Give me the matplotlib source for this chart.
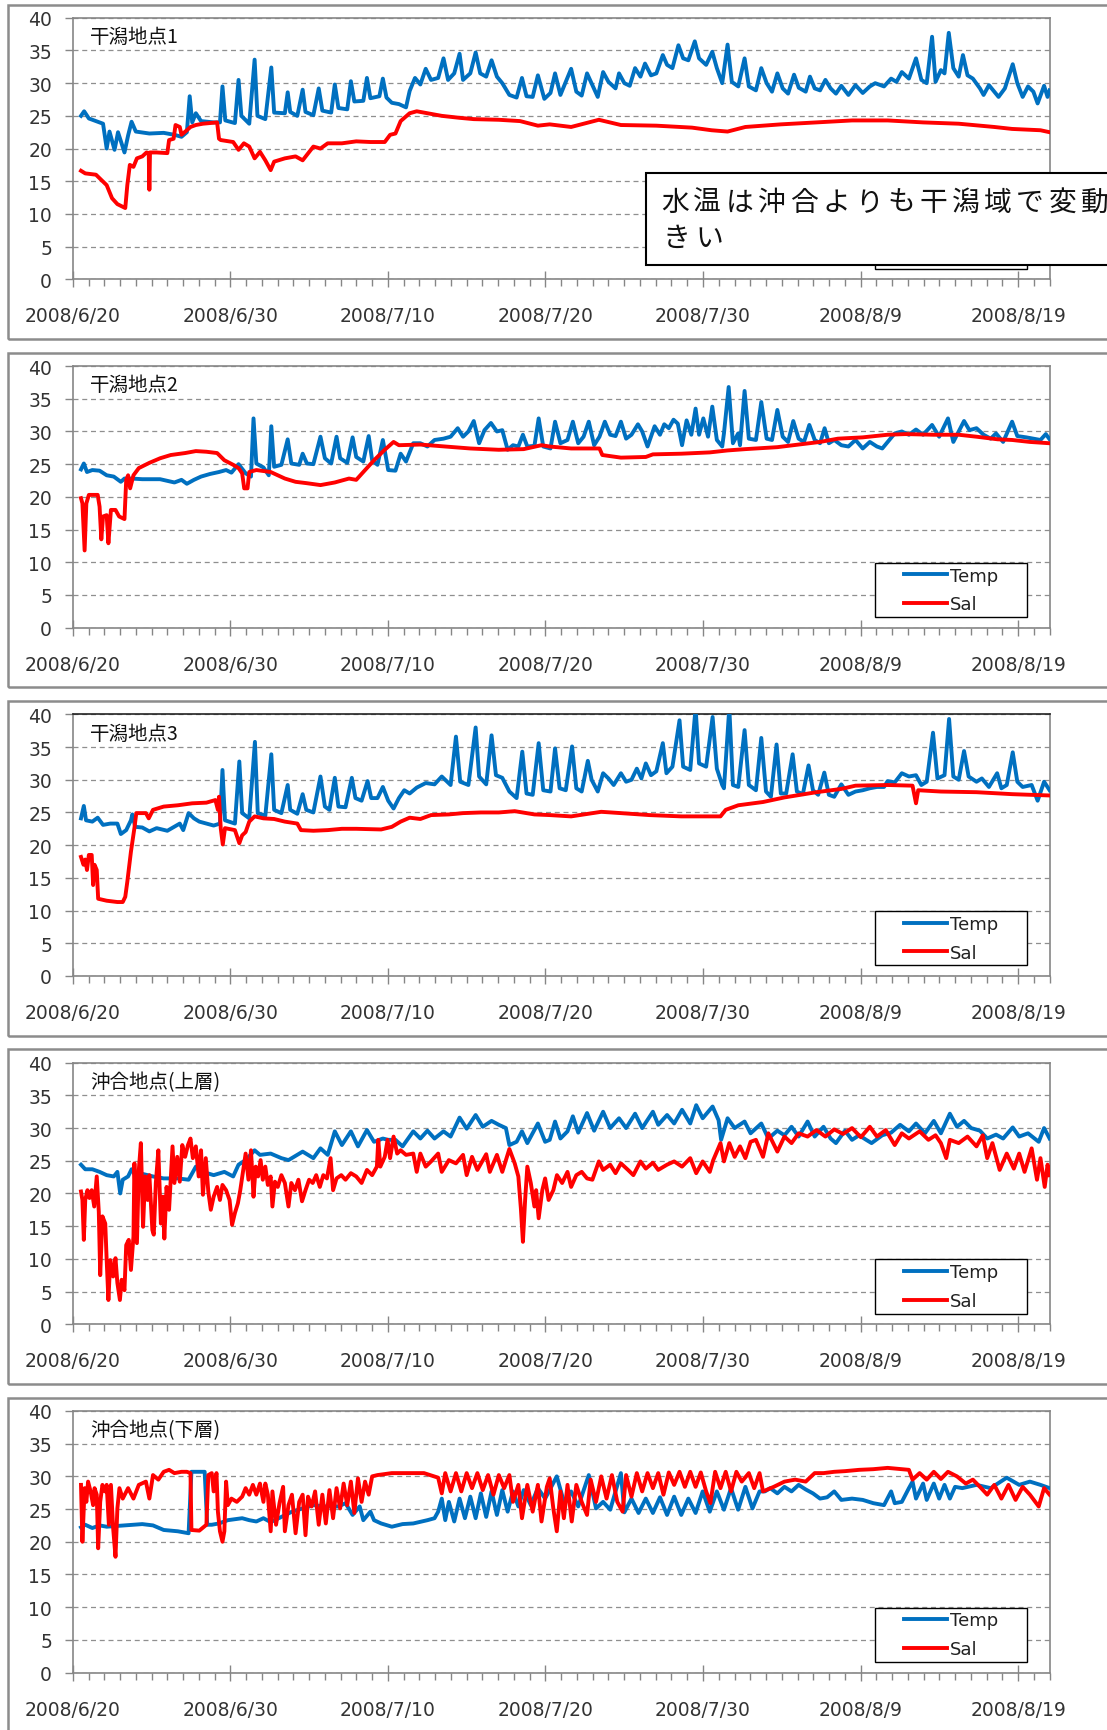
import numpy as np
import matplotlib
matplotlib.use("Agg")
import matplotlib.pyplot as plt
import matplotlib.dates as mdates
from matplotlib.patches import Rectangle
from matplotlib.ticker import FixedLocator, FuncFormatter
from datetime import datetime

plt.rcParams['font.family'] = ['DejaVu Sans', 'Noto Sans CJK JP']

# time axis: days since 2008/6/20 00:00
X_START = "2008-06-20"
X_DAYS = 62
TICK_DATES = ["2008-06-20", "2008-06-30", "2008-07-10", "2008-07-20",
              "2008-07-30", "2008-08-09", "2008-08-19"]
Y_TICKS = [0, 5, 10, 15, 20, 25, 30, 35, 40]

TITLES = ["干潟地点1", "干潟地点2", "干潟地点3", "沖合地点(上層)", "沖合地点(下層)"]
LABELS = ["Temp", "Sal"]
NOTE_LINES = ["水温は沖合よりも干潟域で変動", "きい"]

# (day, value)
T1 = [(0.52,25.0),(0.72,25.7),(1.02,24.6),(1.47,24.2),(1.92,23.8),(2.15,20.0),(2.33,22.6),(2.65,19.8),
      (2.87,22.5),(3.28,19.4),(3.51,22.0),(3.73,24.1),(4.00,22.6),(4.86,22.3),(5.77,22.4),(6.45,22.1),
      (6.90,21.8),(7.24,22.5),(7.42,28.0),(7.58,24.0),(7.81,25.4),(8.14,24.2),(8.94,24.0),(9.34,24.0),
      (9.50,29.5),(9.68,24.3),(10.29,23.9),(10.52,30.5),(10.70,25.0),(11.20,23.8),(11.54,33.6),(11.72,25.0),
      (12.22,24.5),(12.60,32.4),(12.78,25.5),(13.46,25.4),(13.64,28.6),(13.80,25.6),(14.25,25.0),(14.59,29.0),
      (14.77,25.6),(15.27,25.1),(15.61,29.2),(15.84,25.8),(16.40,25.5),(16.63,29.8),(16.86,26.2),(17.42,26.0),
      (17.65,30.3),(17.87,27.2),(18.44,27.3),(18.67,30.8),(18.89,27.7),(19.46,28.0),(19.68,30.7),(19.91,27.8),
      (20.25,27.0),(20.70,26.8),(21.15,26.3),(21.38,28.8),(21.72,30.8),(22.06,29.8),(22.40,32.2),(22.74,30.5),
      (23.19,30.8),(23.53,33.8),(23.82,30.5),(24.21,31.5),(24.55,34.5),(24.77,30.5),(25.23,31.5),(25.57,34.7),
      (25.86,31.5),(26.24,31.0),(26.58,33.5),(26.92,31.0),(27.26,30.0),(27.71,28.2),(28.17,27.8),(28.51,30.8),
      (28.80,28.0),(29.19,27.9),(29.52,31.2),(29.93,27.6),(30.32,28.5),(30.61,31.5),(30.95,28.2),(31.29,30.2),
      (31.63,32.2),(31.96,28.7),(32.30,28.1),(32.64,31.5),(32.98,29.7),(33.32,27.9),(33.66,31.7),(34.00,30.2),
      (34.45,29.2),(34.67,31.5),(35.01,30.0),(35.35,29.6),(35.69,32.3),(36.03,31.0),(36.32,33.0),(36.70,31.2),
      (37.04,31.5),(37.45,34.3),(37.72,32.8),(38.06,32.3),(38.44,35.8),(38.74,33.8),(39.07,33.5),(39.48,36.4),
      (39.75,33.8),(40.20,32.8),(40.59,34.8),(40.88,32.3),(41.22,30.0),(41.56,35.9),(41.83,30.2),(42.24,29.5),
      (42.64,33.8),(42.91,29.5),(43.36,28.9),(43.70,32.3),(44.04,30.0),(44.38,28.7),(44.72,31.5),(45.06,29.2),
      (45.40,28.4),(45.78,31.3),(46.08,29.3),(46.52,28.7),(46.79,31.0),(47.09,29.2),(47.43,28.9),(47.77,30.5),
      (48.10,29.2),(48.44,28.4),(48.78,29.6),(49.23,28.2),(49.68,29.7),(50.14,28.5),(50.59,29.5),(50.93,30.0),
      (51.49,29.5),(51.94,30.7),(52.28,30.2),(52.62,31.7),(53.07,30.7),(53.52,33.8),(53.86,30.5),(54.20,30.0),
      (54.54,37.1),(54.76,30.2),(55.10,32.0),(55.33,31.5),(55.60,37.7),(55.89,32.3),(56.23,31.0),(56.50,34.3),
      (56.79,31.2),(57.13,30.7),(57.58,29.2),(57.81,28.2),(58.15,29.7),(58.49,28.7),(58.76,27.9),(59.16,29.2),
      (59.66,32.9),(59.95,30.0),(60.29,27.9),(60.63,29.5),(60.97,28.7),(61.24,26.9),(61.65,29.6),(61.87,27.9),
      (62.0,28.9)]
S1 = [(0.52,16.6),(0.79,16.2),(1.47,16.0),(1.81,15.2),(2.15,14.4),(2.49,12.4),(2.83,11.5),(3.33,10.9),
      (3.46,14.4),(3.62,17.5),(3.85,17.2),(4.07,18.5),(4.41,18.8),(4.68,19.4),(4.82,19.3),(4.86,13.7),
      (4.90,19.4),(5.32,19.4),(6.00,19.3),(6.11,21.3),(6.40,21.5),(6.52,23.6),(6.79,23.3),(6.90,22.1),
      (7.24,22.8),(7.47,23.3),(7.81,23.6),(8.26,23.8),(9.16,24.0),(9.28,21.5),(9.39,21.3),(10.18,21.0),
      (10.52,19.8),(10.86,20.8),(11.20,20.3),(11.54,18.5),(11.88,19.5),(12.22,18.2),(12.56,16.7),(12.78,18.0),
      (13.46,18.5),(14.14,18.8),(14.59,18.2),(15.27,20.3),(15.72,20.0),(16.18,20.8),(17.08,20.8),(17.99,21.1),
      (18.89,21.0),(19.80,21.0),(20.14,22.1),(20.48,22.3),(20.81,24.2),(21.38,25.4),(21.83,25.7),(22.51,25.4),
      (23.42,25.0),(24.55,24.7),(25.45,24.5),(27.04,24.4),(28.39,24.2),(29.52,23.5),(30.27,23.7),(31.63,23.3),
      (33.39,24.4),(34.79,23.6),(37.04,23.5),(39.30,23.2),(40.54,22.8),(41.56,22.6),(42.69,23.3),(44.94,23.7),
      (47.20,24.0),(49.46,24.3),(51.72,24.3),(53.97,24.0),(56.23,23.8),(58.49,23.3),(59.62,23.0),(61.42,22.8),
      (62.0,22.5)]
T2 = [(0.52,24.2),(0.70,25.1),(0.90,23.8),(1.24,24.1),(1.70,24.0),(2.15,23.3),(2.60,23.1),(3.05,22.3),
      (3.28,22.8),(3.73,22.8),(4.41,22.7),(5.54,22.7),(6.45,22.2),(6.90,22.6),(7.24,22.0),(7.69,22.6),
      (8.14,23.1),(8.71,23.5),(9.28,23.8),(9.73,24.1),(10.07,23.7),(10.52,25.0),(10.97,23.6),(11.31,23.1),
      (11.47,32.0),(11.65,25.1),(12.10,24.5),(12.44,23.3),(12.60,30.8),(12.78,24.6),(13.24,24.9),(13.64,28.8),
      (13.87,25.1),(14.37,24.9),(14.59,26.6),(14.86,25.1),(15.27,25.0),(15.72,29.2),(16.00,25.9),(16.40,25.1),
      (16.74,29.2),(16.97,25.9),(17.42,25.2),(17.76,29.1),(17.99,26.1),(18.44,25.4),(18.78,29.3),(19.00,25.6),
      (19.34,24.9),(19.68,28.7),(20.02,24.1),(20.48,24.0),(20.81,26.6),(21.15,25.4),(21.61,28.2),(22.06,28.2),
      (22.51,27.7),(22.96,28.7),(23.53,28.9),(23.98,29.2),(24.43,30.5),(24.77,29.2),(25.11,30.0),(25.45,31.6),
      (25.79,28.2),(26.13,30.2),(26.54,31.3),(26.92,30.0),(27.26,30.2),(27.60,27.2),(27.94,27.9),(28.28,27.7),
      (28.57,29.5),(28.85,27.7),(29.30,27.8),(29.57,32.0),(29.86,27.7),(30.32,27.4),(30.61,31.5),(30.95,28.2),
      (31.40,28.7),(31.74,31.5),(32.08,28.2),(32.42,29.2),(32.75,31.5),(33.09,27.9),(33.43,29.2),(33.77,31.5),
      (34.11,29.5),(34.45,29.3),(34.79,31.5),(35.12,28.9),(35.46,29.5),(35.87,31.1),(36.14,30.0),(36.48,27.7),
      (36.93,30.8),(37.27,29.5),(37.54,31.1),(37.83,30.5),(38.13,31.8),(38.40,31.2),(38.67,27.9),(38.96,31.7),
      (39.26,29.5),(39.53,33.5),(39.75,29.5),(40.02,32.0),(40.32,29.2),(40.59,33.8),(40.88,28.7),(41.22,27.7),
      (41.33,29.7),(41.63,36.8),(41.90,28.2),(42.23,29.7),(42.35,27.9),(42.64,36.2),(42.91,28.9),(43.36,28.7),
      (43.70,34.5),(44.04,28.9),(44.38,28.7),(44.72,33.3),(45.06,29.2),(45.40,28.4),(45.73,31.6),(46.07,28.9),
      (46.41,28.4),(46.75,31.0),(47.09,28.7),(47.43,28.2),(47.72,30.5),(47.99,28.2),(48.33,28.7),(48.78,27.9),
      (49.23,27.7),(49.68,28.7),(50.14,27.4),(50.59,28.4),(51.04,27.7),(51.38,27.4),(51.72,28.4),(52.17,29.7),
      (52.62,30.0),(53.07,29.5),(53.52,30.3),(53.97,29.5),(54.54,31.0),(54.99,29.2),(55.55,32.0),(55.89,28.4),
      (56.23,30.0),(56.57,31.6),(56.91,30.2),(57.36,30.5),(57.81,29.5),(58.26,28.9),(58.60,29.7),(59.05,28.4),
      (59.62,31.5),(59.95,29.3),(60.52,29.1),(60.97,28.9),(61.42,28.7),(61.76,29.6),(62.0,28.8)]
S2 = [(0.52,19.8),(0.61,19.0),(0.75,11.8),(0.86,19.0),(1.02,20.3),(1.58,20.3),(1.70,18.5),(1.81,13.5),
      (1.92,17.0),(2.15,17.2),(2.26,12.9),(2.42,18.0),(2.71,18.0),(2.94,17.0),(3.28,16.6),(3.39,22.6),
      (3.51,23.3),(3.64,21.3),(3.85,23.3),(4.19,24.4),(4.86,25.2),(5.54,25.9),(6.22,26.4),(7.13,26.7),
      (7.81,27.0),(8.48,26.9),(9.16,26.7),(9.62,25.6),(10.18,24.9),(10.52,24.4),(10.75,23.6),(10.88,21.3),
      (11.09,21.3),(11.20,23.8),(11.65,24.1),(12.56,23.8),(13.01,23.3),(13.46,22.8),(14.14,22.3),(14.82,22.1),
      (15.72,21.8),(16.63,22.2),(17.53,22.8),(17.99,22.6),(18.44,23.8),(19.12,25.6),(19.80,27.2),(20.36,28.4),
      (20.70,27.9),(22.06,28.0),(23.64,27.7),(25.23,27.4),(27.04,27.2),(28.62,27.3),(29.75,27.9),(30.27,27.7),
      (31.63,27.4),(33.43,27.4),(33.61,26.4),(34.79,26.0),(36.37,26.1),(36.82,26.5),(38.62,26.6),(40.43,26.8),
      (41.56,27.1),(42.69,27.3),(44.72,27.6),(46.07,28.0),(47.43,28.4),(48.56,28.9),(50.14,29.1),(51.72,29.5),
      (52.84,29.6),(54.65,29.5),(56.23,29.5),(57.36,29.2),(58.71,28.8),(59.62,28.7),(60.75,28.4),(62.0,28.2)]
T3 = [(0.52,24.1),(0.70,26.0),(0.84,23.8),(1.24,23.6),(1.58,24.2),(1.92,23.1),(2.38,23.3),(2.83,23.3),
      (3.05,21.7),(3.39,22.3),(3.69,23.8),(3.78,24.7),(3.96,22.8),(4.41,22.7),(4.86,22.1),(5.32,22.6),
      (6.00,22.2),(6.79,23.3),(7.01,22.3),(7.35,24.9),(7.69,24.1),(8.03,23.6),(8.48,23.3),(8.94,23.0),
      (9.34,23.3),(9.50,31.5),(9.66,23.8),(10.29,23.3),(10.57,32.8),(10.75,24.9),(11.20,24.1),(11.56,35.8),
      (11.74,24.9),(12.22,24.5),(12.60,33.9),(12.78,25.4),(13.24,24.9),(13.64,29.2),(13.80,25.4),(14.25,24.8),
      (14.59,27.8),(14.82,25.4),(15.27,25.0),(15.72,30.5),(16.00,25.9),(16.29,25.4),(16.63,30.3),(16.86,25.9),
      (17.31,25.8),(17.71,30.3),(17.94,27.2),(18.33,26.8),(18.71,29.8),(18.94,27.2),(19.34,27.2),(19.68,28.9),
      (20.02,26.8),(20.36,25.6),(20.70,27.2),(21.04,28.4),(21.38,27.9),(21.83,28.8),(22.40,29.5),(22.96,29.3),
      (23.42,30.5),(23.98,29.2),(24.32,36.6),(24.59,29.7),(25.11,29.2),(25.57,38.0),(25.79,30.5),(26.24,29.3),
      (26.58,36.8),(26.86,30.7),(27.26,30.3),(27.71,28.2),(28.17,27.2),(28.53,34.3),(28.80,27.9),(29.19,27.7),
      (29.57,35.6),(29.86,28.4),(30.32,28.2),(30.61,34.8),(30.90,28.7),(31.29,28.4),(31.69,35.1),(31.96,28.7),
      (32.30,28.2),(32.69,32.9),(32.93,30.0),(33.32,28.2),(33.66,31.0),(34.00,30.2),(34.33,29.2),(34.79,31.0),
      (35.12,29.7),(35.46,30.0),(35.80,31.7),(36.09,30.2),(36.37,32.5),(36.70,30.7),(37.04,31.3),(37.45,35.6),
      (37.68,31.0),(38.06,32.0),(38.51,39.1),(38.74,32.0),(39.19,31.5),(39.53,41.0),(39.75,32.5),(40.20,32.0),
      (40.61,39.6),(40.88,31.7),(41.22,29.2),(41.33,28.7),(41.67,41.0),(41.90,29.2),(42.24,28.9),(42.64,37.6),
      (42.91,29.2),(43.36,28.4),(43.70,36.4),(44.00,28.2),(44.31,27.4),(44.67,35.4),(44.94,27.9),(45.28,27.9),
      (45.69,33.9),(45.96,28.2),(46.34,27.8),(46.70,32.2),(46.98,28.4),(47.31,27.7),(47.70,31.1),(47.99,27.7),
      (48.33,27.4),(48.78,29.3),(49.23,27.7),(49.68,28.2),(50.14,28.4),(50.59,28.7),(51.04,28.9),(51.49,28.9),
      (51.72,29.8),(52.17,29.6),(52.62,31.0),(53.07,30.5),(53.52,30.7),(53.86,29.2),(54.20,29.7),(54.60,37.2),
      (54.88,30.2),(55.33,30.7),(55.62,39.3),(55.89,30.5),(56.23,30.0),(56.57,34.4),(56.86,30.5),(57.36,29.7),
      (57.70,30.2),(58.15,28.9),(58.67,31.0),(58.94,28.7),(59.28,29.2),(59.66,34.2),(59.95,29.7),(60.29,28.9),
      (60.86,29.2),(61.24,26.8),(61.65,29.7),(62.0,28.4)]
S3 = [(0.52,18.2),(0.68,17.0),(0.79,17.8),(0.90,16.2),(1.02,18.5),(1.20,18.5),(1.29,13.9),(1.38,17.0),
      (1.52,16.2),(1.61,11.8),(2.15,11.5),(2.83,11.3),(3.17,11.3),(3.33,12.1),(3.46,14.4),(3.69,19.0),
      (3.91,22.6),(4.03,24.9),(4.64,24.9),(4.82,24.1),(5.09,25.4),(5.77,25.9),(6.67,26.1),(7.58,26.4),
      (8.48,26.5),(9.05,26.9),(9.21,25.4),(9.28,27.4),(9.39,22.6),(9.52,20.1),(9.66,22.6),(10.29,22.3),
      (10.57,20.3),(10.75,21.5),(10.97,22.0),(11.20,23.6),(11.54,24.4),(12.10,24.1),(12.78,24.0),(13.46,23.6),
      (14.25,23.3),(14.48,22.3),(15.27,22.2),(16.18,22.3),(17.08,22.5),(17.99,22.5),(19.57,22.4),(20.25,22.8),
      (20.81,23.6),(21.38,24.2),(22.06,24.0),(22.74,24.6),(23.87,24.7),(24.77,24.9),(25.90,25.0),(27.04,25.0),
      (28.05,25.2),(29.30,24.7),(30.27,24.6),(31.63,24.4),(33.54,25.1),(34.79,24.9),(36.59,24.6),(38.62,24.4),
      (41.11,24.4),(41.44,25.4),(42.24,26.1),(43.81,26.6),(45.17,27.3),(47.20,28.1),(48.78,28.6),(49.68,29.1),
      (51.72,29.2),(53.30,29.1),(53.52,26.4),(53.66,28.4),(55.10,28.2),(57.36,28.1),(59.62,27.8),(62.0,27.6)]
T4 = [(0.52,24.4),(0.79,23.7),(1.24,23.7),(1.70,23.3),(2.15,22.8),(2.60,22.6),(2.83,23.3),(3.01,20.0),
      (3.17,22.1),(3.51,22.6),(3.73,23.7),(3.96,22.8),(4.41,23.0),(5.09,22.6),(5.77,22.3),(6.67,22.3),
      (7.35,22.1),(7.81,24.1),(8.26,23.3),(8.94,22.8),(9.62,23.3),(10.18,22.6),(10.52,24.4),(10.97,25.1),
      (11.54,26.6),(11.88,25.9),(12.56,26.1),(13.24,25.4),(13.69,25.1),(14.59,26.4),(15.27,25.4),(15.72,26.9),
      (16.18,25.9),(16.63,29.5),(17.08,27.4),(17.65,29.5),(18.10,27.2),(18.67,29.7),(19.12,27.9),(19.68,28.4),
      (20.02,28.2),(20.48,28.2),(20.93,27.2),(21.61,29.5),(22.06,28.4),(22.51,29.6),(22.96,28.4),(23.53,29.5),
      (23.98,28.7),(24.55,31.6),(25.00,29.9),(25.57,32.0),(26.02,30.2),(26.58,31.1),(27.04,30.5),(27.49,30.0),
      (27.71,27.4),(28.17,27.9),(28.51,29.5),(28.85,27.7),(29.52,30.7),(29.98,27.9),(30.27,28.2),(30.61,31.0),
      (30.95,28.4),(31.40,29.5),(31.74,31.8),(32.08,29.3),(32.64,32.3),(33.09,29.6),(33.66,32.5),(34.11,30.0),
      (34.67,31.5),(35.12,30.0),(35.69,32.2),(36.14,30.0),(36.82,32.5),(37.16,30.5),(37.72,32.0),(38.17,30.7),
      (38.67,32.8),(39.19,30.7),(39.57,33.5),(39.98,31.5),(40.61,33.3),(40.99,31.2),(41.15,28.2),(41.56,31.5),
      (42.01,30.0),(42.64,31.0),(43.02,29.2),(43.70,30.7),(44.15,28.4),(44.72,29.6),(45.17,28.9),(45.62,30.2),
      (46.07,28.7),(46.64,31.0),(47.09,28.7),(47.65,30.2),(48.10,28.4),(48.44,27.7),(49.01,29.6),(49.46,28.2),
      (49.91,28.9),(50.36,28.2),(50.70,27.7),(51.38,28.9),(51.94,29.3),(52.51,30.5),(53.07,29.5),(53.52,30.7),
      (54.09,29.2),(54.65,31.1),(55.10,29.2),(55.67,32.2),(56.12,30.2),(56.57,31.1),(57.02,30.0),(57.58,29.6),
      (58.04,28.4),(58.60,29.0),(59.05,28.4),(59.66,30.1),(60.07,28.7),(60.63,29.2),(61.31,27.9),(61.65,30.0),
      (62.0,28.4)]
S4 = [(0.52,20.3),(0.61,19.0),(0.70,12.9),(0.79,19.0),(0.93,20.5),(1.06,19.3),(1.20,20.5),(1.36,18.0),
      (1.52,22.6),(1.65,17.2),(1.74,7.5),(1.88,16.5),(2.06,15.4),(2.15,9.8),(2.26,3.7),(2.38,9.8),
      (2.56,7.3),(2.71,10.1),(2.83,6.3),(2.99,3.7),(3.10,6.8),(3.28,5.2),(3.39,12.1),(3.55,12.9),
      (3.69,8.3),(3.85,13.4),(3.91,24.6),(4.07,12.4),(4.19,23.6),(4.32,27.7),(4.46,14.9),(4.59,22.6),
      (4.75,19.0),(4.86,22.8),(5.05,14.4),(5.14,13.7),(5.27,21.6),(5.43,26.6),(5.59,15.4),(5.72,19.5),
      (5.81,13.1),(5.95,21.0),(6.11,17.5),(6.33,27.2),(6.45,21.6),(6.63,25.6),(6.79,21.8),(6.95,27.4),
      (7.13,25.6),(7.31,27.4),(7.47,28.4),(7.62,25.4),(7.81,27.2),(7.99,22.6),(8.14,26.6),(8.26,19.8),
      (8.44,25.4),(8.60,20.3),(8.76,17.5),(8.94,19.5),(9.16,21.0),(9.34,19.0),(9.50,21.3),(9.73,20.5),
      (9.95,19.0),(10.11,15.2),(10.29,17.0),(10.48,18.5),(10.63,20.5),(10.79,23.1),(10.97,26.1),(11.15,22.1),
      (11.31,26.6),(11.47,19.5),(11.61,24.1),(11.76,22.6),(11.92,25.1),(12.06,22.1),(12.22,24.1),(12.38,21.3),
      (12.56,22.6),(12.67,18.0),(12.83,21.8),(13.01,21.0),(13.24,22.8),(13.46,21.6),(13.69,18.0),(13.87,21.6),
      (14.10,20.5),(14.32,22.1),(14.55,18.8),(14.77,20.5),(15.00,22.1),(15.23,21.6),(15.45,22.8),(15.68,21.0),
      (15.90,22.8),(16.13,22.3),(16.36,25.4),(16.52,20.5),(16.74,22.3),(17.04,22.8),(17.31,22.1),(17.65,23.1),
      (17.99,22.6),(18.33,21.6),(18.67,23.6),(19.00,22.8),(19.30,24.1),(19.39,28.2),(19.52,24.1),(19.80,25.6),
      (19.98,28.2),(20.14,25.4),(20.36,28.7),(20.59,26.1),(20.81,26.6),(21.15,25.9),(21.61,26.1),(21.83,23.3),
      (22.06,26.1),(22.40,24.1),(22.74,24.9),(23.19,26.1),(23.42,23.3),(23.87,25.1),(24.32,24.6),(24.77,25.9),
      (25.00,22.8),(25.34,25.6),(25.68,23.6),(26.24,26.0),(26.47,23.3),(26.92,25.9),(27.26,23.3),(27.71,26.8),
      (28.05,24.6),(28.28,22.6),(28.44,17.7),(28.57,12.6),(28.71,19.0),(28.85,24.1),(29.07,21.6),(29.30,18.0),
      (29.41,20.5),(29.57,16.2),(29.80,20.5),(29.98,22.3),(30.20,19.0),(30.50,20.5),(30.73,22.8),(31.06,21.6),
      (31.40,23.3),(31.63,21.0),(31.96,22.8),(32.30,23.3),(32.64,22.3),(32.98,22.1),(33.39,24.9),(33.66,23.6),
      (34.11,24.4),(34.45,23.1),(34.79,24.6),(35.24,23.6),(35.58,22.8),(36.03,24.9),(36.37,23.8),(36.82,24.7),
      (37.16,23.6),(37.72,24.4),(38.17,24.9),(38.67,24.1),(39.19,25.4),(39.57,23.1),(39.98,24.9),(40.43,23.3),
      (40.65,25.1),(41.11,27.7),(41.33,24.9),(41.67,27.7),(42.01,25.6),(42.35,27.2),(42.69,25.4),(43.02,27.9),
      (43.36,28.2),(43.81,25.6),(44.15,29.2),(44.72,26.4),(45.17,28.7),(45.62,27.7),(46.07,29.2),(46.64,28.7),
      (47.20,29.7),(47.77,28.7),(48.33,29.8),(48.89,29.1),(49.46,30.0),(50.02,28.6),(50.59,30.2),(51.04,28.7),
      (51.60,29.7),(52.17,27.4),(52.62,29.2),(53.07,28.4),(53.75,29.5),(54.31,28.2),(54.76,28.9),(55.10,27.7),
      (55.44,25.4),(55.67,28.2),(56.23,27.7),(56.79,28.7),(57.36,27.2),(57.76,28.9),(58.04,25.4),(58.37,27.7),
      (58.83,23.6),(59.28,26.1),(59.73,23.8),(60.07,26.1),(60.41,23.3),(60.86,26.9),(61.20,22.1),(61.42,25.4),
      (61.69,21.0),(61.87,24.4),(62.0,22.8)]
T5 = [(0.52,22.2),(0.79,22.6),(1.24,22.1),(1.70,22.5),(2.15,22.3),(3.28,22.5),(4.41,22.7),(5.09,22.5),
      (5.77,21.8),(6.67,21.6),(7.35,21.3),(7.53,30.7),(8.37,30.7),(8.53,22.6),(8.82,22.6),(9.28,22.8),
      (9.84,23.3),(10.75,23.6),(11.20,23.3),(11.65,23.1),(12.10,23.6),(12.56,23.0),(13.24,23.8),(13.91,24.6),
      (14.59,25.1),(15.27,25.6),(15.95,25.4),(16.86,25.4),(17.31,25.9),(17.76,24.1),(18.21,25.4),(18.44,23.3),
      (18.89,24.6),(19.12,23.3),(19.57,22.8),(20.25,22.3),(20.93,22.7),(21.61,22.8),(22.51,23.3),(22.96,23.6),
      (23.19,24.6),(23.42,26.6),(23.64,23.3),(23.87,26.1),(24.21,23.1),(24.55,26.6),(24.89,23.6),(25.23,26.9),
      (25.57,23.6),(25.90,27.4),(26.24,23.8),(26.58,27.7),(26.92,24.1),(27.26,27.9),(27.60,24.6),(27.94,27.7),
      (28.28,25.4),(28.62,27.9),(29.07,25.6),(29.52,28.2),(29.98,26.6),(30.72,30.0),(31.17,26.1),(31.63,27.7),
      (32.08,25.4),(32.75,30.2),(33.21,25.1),(33.66,26.1),(34.11,24.9),(34.79,30.5),(35.01,24.5),(35.46,26.6),
      (35.91,24.4),(36.37,26.6),(36.82,24.4),(37.27,26.8),(37.72,24.1),(38.17,26.9),(38.62,24.1),(39.07,26.6),
      (39.53,24.4),(39.98,27.7),(40.43,24.6),(40.88,27.7),(41.33,24.9),(41.78,28.2),(42.23,24.9),(42.69,28.4),
      (43.14,25.1),(43.59,27.7),(43.93,27.7),(44.27,28.2),(44.72,27.4),(45.17,28.4),(45.62,27.7),(46.07,28.7),
      (46.52,28.0),(46.98,27.4),(47.43,26.6),(47.88,26.8),(48.33,27.7),(48.78,26.4),(49.46,26.6),(50.14,26.4),
      (50.81,25.9),(51.49,25.6),(51.94,27.7),(52.17,25.9),(52.62,26.1),(53.07,28.2),(53.30,29.2),(53.52,26.6),
      (53.97,28.9),(54.20,26.4),(54.65,28.9),(54.99,26.6),(55.33,28.7),(55.67,26.6),(56.00,28.4),(56.46,28.2),
      (57.36,28.7),(58.26,28.2),(59.28,29.8),(60.07,28.7),(60.75,29.2),(61.42,28.7),(62.0,28.2)]
S5 = [(0.52,28.7),(0.61,20.0),(0.75,28.2),(0.86,26.1),(0.97,29.2),(1.13,27.7),(1.29,25.6),(1.38,28.2),
      (1.52,27.2),(1.61,19.0),(1.74,26.1),(1.88,28.7),(2.04,27.7),(2.15,28.7),(2.29,22.6),(2.42,28.7),
      (2.56,22.1),(2.71,17.7),(2.83,25.1),(2.96,28.2),(3.17,26.6),(3.51,28.2),(3.85,26.6),(4.19,28.7),
      (4.64,29.2),(4.86,26.6),(5.09,30.2),(5.43,29.5),(5.77,30.7),(6.11,31.0),(6.45,30.5),(6.90,30.7),
      (7.24,30.7),(7.47,30.5),(7.53,21.8),(8.03,21.7),(8.48,22.6),(8.60,30.2),(8.82,30.5),(8.94,27.7),
      (9.12,30.5),(9.21,24.6),(9.34,21.6),(9.50,20.0),(9.62,21.6),(9.73,29.2),(9.84,25.6),(10.07,26.6),
      (10.41,26.1),(10.75,26.9),(10.97,28.2),(11.20,27.2),(11.43,28.7),(11.65,27.2),(11.88,28.9),(12.10,26.1),
      (12.22,28.9),(12.38,27.2),(12.56,21.6),(12.67,27.7),(12.90,22.6),(13.12,25.9),(13.35,28.4),(13.46,21.6),
      (13.69,25.6),(13.91,27.2),(14.14,21.3),(14.37,26.1),(14.59,27.2),(14.77,21.0),(14.93,26.9),(15.16,25.4),
      (15.38,27.7),(15.61,22.6),(15.84,27.2),(16.06,22.8),(16.29,27.9),(16.52,23.6),(16.74,28.2),(16.97,25.1),
      (17.19,28.9),(17.42,25.6),(17.65,29.2),(17.87,24.4),(18.10,29.7),(18.33,26.1),(18.55,29.2),(18.78,27.2),
      (19.00,30.0),(19.34,30.2),(20.25,30.5),(21.38,30.5),(22.29,30.5),(23.19,29.8),(23.42,27.4),(23.64,30.5),
      (23.98,27.7),(24.32,30.5),(24.66,27.7),(25.00,30.5),(25.34,28.2),(25.68,30.5),(26.02,27.9),(26.36,30.2),
      (26.70,27.2),(27.04,30.2),(27.38,28.2),(27.71,30.2),(27.94,26.1),(28.28,28.7),(28.51,23.6),(28.85,28.7),
      (29.19,24.6),(29.52,28.7),(29.75,23.1),(30.09,28.4),(30.27,29.7),(30.50,25.1),(30.72,21.6),(30.95,27.7),
      (31.17,23.6),(31.40,28.7),(31.67,23.1),(31.96,28.7),(32.30,26.1),(32.64,24.1),(32.87,29.5),(33.21,26.1),
      (33.54,30.0),(33.88,26.6),(34.22,30.2),(34.56,26.1),(34.90,24.6),(35.12,30.2),(35.46,26.9),(35.80,30.5),
      (36.14,27.7),(36.48,30.5),(36.82,28.2),(37.16,30.5),(37.49,27.2),(37.83,30.6),(38.17,28.7),(38.51,30.7),
      (38.85,28.4),(39.19,30.7),(39.53,28.4),(39.86,30.6),(40.20,27.7),(40.47,25.9),(40.77,30.7),(41.11,28.2),
      (41.44,30.7),(41.78,27.7),(42.12,30.7),(42.46,29.2),(42.91,30.5),(43.25,28.2),(43.59,30.5),(43.81,27.7),
      (44.49,28.4),(45.17,29.2),(45.85,29.5),(46.52,29.2),(47.09,30.5),(47.65,30.5),(48.33,30.7),(49.01,30.8),
      (49.91,31.0),(50.81,31.1),(51.72,31.3),(52.62,31.1),(53.07,31.0),(53.30,29.5),(53.75,30.5),(54.20,29.5),
      (54.65,30.7),(55.10,29.6),(55.55,30.7),(56.12,30.0),(56.68,28.9),(57.13,29.5),(57.58,28.4),(58.04,27.2),
      (58.49,28.7),(58.94,26.6),(59.39,28.7),(59.84,26.4),(60.29,28.4),(60.75,27.2),(61.31,25.4),(61.65,28.2),
      (62.0,27.2)]

SERIES = [(T1, S1), (T2, S2), (T3, S3), (T4, S4), (T5, S5)]

BLUE = '#0070C0'
RED = '#FF0000'
AXIS_GRAY = '#868686'

W, H = 1107.0, 1731.0
STEP = 348.3

fig = plt.figure(figsize=(11.07, 17.31), dpi=100)

base = mdates.date2num(datetime.strptime(X_START, "%Y-%m-%d"))
major = [mdates.date2num(datetime.strptime(d, "%Y-%m-%d")) for d in TICK_DATES]
minor = base + np.arange(0, X_DAYS + 1)


def date_label(x, pos):
    d = mdates.num2date(x)
    return f"{d.year}/{d.month}/{d.day}"


for k, (title, (temp, sal)) in enumerate(zip(TITLES, SERIES)):
    # grey chart-area frame
    ftop = 5.5 + STEP * k
    fbot = 340.0 + STEP * k
    fig.add_artist(Rectangle((7.7 / W, 1 - fbot / H), 1200 / W, (fbot - ftop) / H,
                             transform=fig.transFigure, fill=False,
                             ec='#8c8c8c', lw=1.8, zorder=0))

    top = 18.8 + STEP * k
    bot = 280.3 + STEP * k
    ax = fig.add_axes([72.8 / W, 1 - bot / H, 976.8 / W, (bot - top) / H])

    td, tv = zip(*temp)
    sd, sv = zip(*sal)
    lt, = ax.plot(base + np.array(td), tv, color=BLUE, lw=2.8, zorder=3,
                  solid_joinstyle='round', label=LABELS[0])
    ls, = ax.plot(base + np.array(sd), sv, color=RED, lw=2.8, zorder=4,
                  solid_joinstyle='round', label=LABELS[1])

    ax.set_xlim(base, base + X_DAYS)
    ax.set_ylim(0, 40)
    ax.set_yticks(Y_TICKS)
    ax.xaxis.set_major_locator(FixedLocator(major))
    ax.xaxis.set_minor_locator(FixedLocator(minor))
    ax.xaxis.set_major_formatter(FuncFormatter(date_label))

    ax.set_axisbelow(True)
    ax.yaxis.grid(True, ls=(0, (4, 3)), color='#8f8f8f', lw=0.9)

    for side in ['left', 'right', 'top', 'bottom']:
        ax.spines[side].set_color(AXIS_GRAY)
        ax.spines[side].set_linewidth(1.2)
    if k == 2:
        ax.spines['top'].set_color('#222222')

    ax.tick_params(axis='y', direction='out', length=6, width=1, color=AXIS_GRAY,
                   pad=9, labelsize=13.5, labelcolor='#333333')
    ax.tick_params(axis='x', which='major', direction='inout', length=12, width=1,
                   color=AXIS_GRAY, pad=13.5, labelsize=13.5, labelcolor='#333333')
    ax.tick_params(axis='x', which='minor', direction='out', length=5, width=1,
                   color=AXIS_GRAY)

    ax.text(0.018, 0.928, title, transform=ax.transAxes, ha='left', va='center',
            fontsize=14, family=['Noto Sans CJK JP', 'DejaVu Sans'], color='#111111')

    # legend with square black frame
    ax.add_patch(Rectangle((0.821, 0.0405), 0.156, 0.2075, transform=ax.transAxes,
                           fc='white', ec='black', lw=1.0, zorder=5, clip_on=False))
    leg = ax.legend(handles=[lt, ls], labels=LABELS, loc='center',
                    bbox_to_anchor=(0.899, 0.144), frameon=False, fontsize=13,
                    handlelength=2.4, handletextpad=0.15, labelspacing=0.6,
                    borderpad=0)
    leg.set_zorder(6)
    for t in leg.get_texts():
        t.set_color('#222222')

# note box over the first panel
bx0, by0, by1 = 645.7, 174.4, 266.0
fig.add_artist(Rectangle((bx0 / W, 1 - by1 / H), 700 / W, (by1 - by0) / H,
                         transform=fig.transFigure, fc='white', ec='black',
                         lw=1.5, zorder=10))
pitch = 32.3
for row, (line, yc) in enumerate(zip(NOTE_LINES, [203.0, 239.0])):
    x0 = 661.0 if row == 0 else 663.0
    for i, ch in enumerate(line):
        fig.text((x0 + i * pitch) / W, 1 - yc / H, ch, ha='left', va='center',
                 fontsize=20, color='#111111',
                 family=['Noto Sans CJK JP', 'DejaVu Sans'], zorder=11)

fig.savefig("out.png", dpi=100)
